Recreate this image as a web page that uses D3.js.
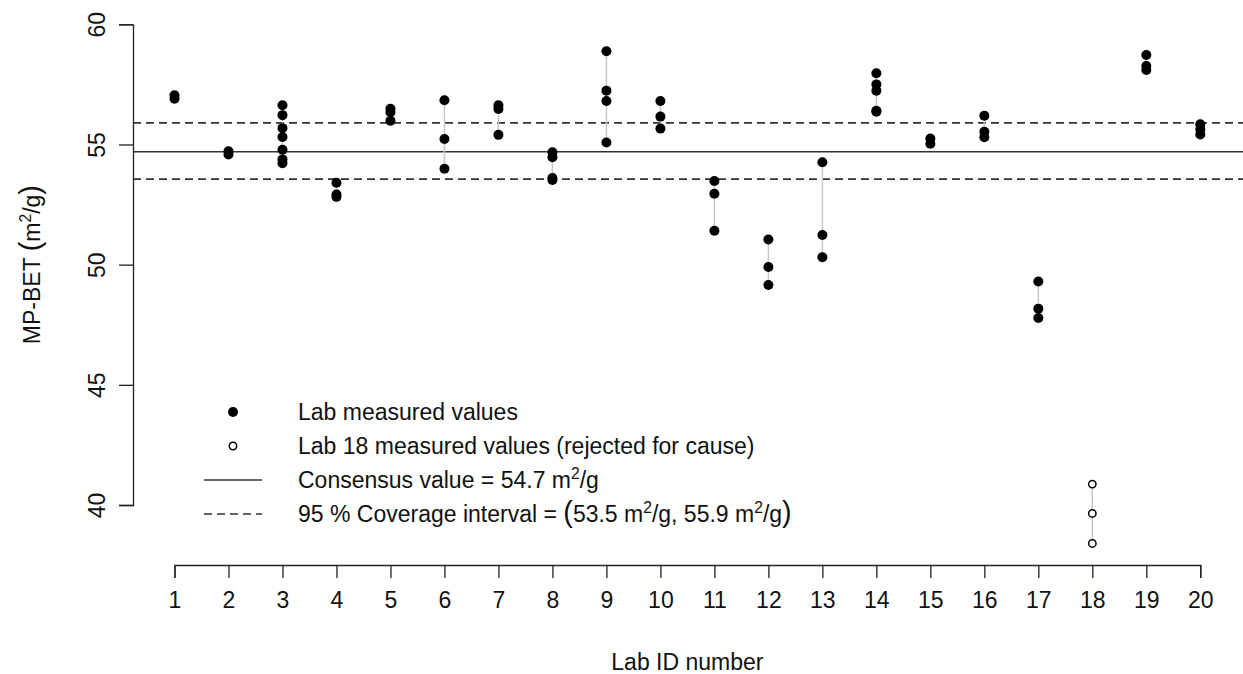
<!DOCTYPE html>
<html>
<head>
<meta charset="utf-8">
<script src="https://cdn.jsdelivr.net/npm/d3@7"></script>
<style>
  body { margin: 0; background: #fff; }
  svg { display: block; font-family: "Liberation Sans", Arial, sans-serif; }
  .axis text { font-size: 23px; fill: #111; }
  .axis path, .axis line { stroke: #222; stroke-width: 1.3; }
</style>
</head>
<body>
<svg id="chart" width="1243" height="674"></svg>
<script>
// Interlab study: MP-BET surface area per lab, with consensus and 95 % interval.

const labIds = [1, 2, 3, 4, 5, 6, 7, 8, 9, 10, 11, 12, 13, 14, 15, 16, 17, 19, 20];
const labValues = [
    [57.05, 56.9],
    [54.72, 54.58],
    [56.63, 56.22, 55.68, 55.31, 54.78, 54.38, 54.22],
    [53.41, 52.92, 52.82],
    [56.49, 56.34, 55.99],
    [56.84, 55.23, 53.99],
    [56.63, 56.48, 55.4],
    [54.68, 54.47, 53.6, 53.52],
    [58.88, 57.24, 56.81, 55.08],
    [56.81, 56.16, 55.66],
    [53.48, 52.95, 51.41],
    [51.05, 49.9, 49.15],
    [54.26, 51.23, 50.31],
    [57.96, 57.5, 57.24, 56.4, 56.36],
    [55.25, 55.03],
    [56.2, 55.53, 55.3],
    [49.3, 48.17, 47.78],
    [58.72, 58.26, 58.1],
    [55.84, 55.63, 55.42]
];
const rejectedLab = 18;
const rejectedValues = [40.87, 39.65, 38.4];

const consensus = 54.7;
const coverage = [53.56, 55.9];

const xTicks = [1, 2, 3, 4, 5, 6, 7, 8, 9, 10, 11, 12, 13, 14, 15, 16, 17, 18, 19, 20];
const yTicks = [40, 45, 50, 55, 60];

// text pieces: [text, kind] where kind is "n" normal, "s" superscript, "p" big paren
const legendLabels = [
    [["Lab measured values", "n"]],
    [["Lab 18 measured values (rejected for cause)", "n"]],
    [["Consensus value = 54.7 m", "n"], ["2", "s"], ["/g", "n"]],
    [["95 % Coverage interval = ", "n"], ["(", "p"], ["53.5 m", "n"], ["2", "s"], ["/g, 55.9 m", "n"],
     ["2", "s"], ["/g", "n"], [")", "p"]]
];
const yTitleParts = [["MP-BET ", "n"], ["(", "p"], ["m", "n"], ["2", "s"], ["/g", "n"], [")", "p"]];

const svg = d3.select("#chart");
const W = 1243, H = 674;

const x = d3.scaleLinear().domain([1, 20]).range([174.5, 1200.3]);
const y = d3.scaleLinear().domain([40, 60]).range([505, 24.3]);
const plotLeft = 133, plotRight = W;

// writes mixed normal / superscript / large-paren pieces into a text element
function richText(t, parts, size) {
    let shift = 0;
    parts.forEach(([s, kind]) => {
        const sp = t.append("tspan").text(s);
        if (kind === "s") {
            sp.attr("font-size", size * 0.68).attr("dy", -9 - shift);
            shift = -9;
        } else {
            sp.attr("font-size", kind === "p" ? size * 1.25 : size);
            if (shift !== 0) { sp.attr("dy", -shift); shift = 0; }
        }
    });
}

// reference lines
svg.append("line")
    .attr("x1", plotLeft).attr("x2", plotRight)
    .attr("y1", y(consensus)).attr("y2", y(consensus))
    .attr("stroke", "#333").attr("stroke-width", 1.6);
coverage.forEach(v => {
    svg.append("line")
        .attr("x1", plotLeft).attr("x2", plotRight)
        .attr("y1", y(v)).attr("y2", y(v))
        .attr("stroke", "#333").attr("stroke-width", 1.6)
        .attr("stroke-dasharray", "8,5");
});

// range segments per lab
const groups = labIds.map((id, i) => ({ id, vals: labValues[i] }));
groups.push({ id: rejectedLab, vals: rejectedValues });

svg.append("g").selectAll("line")
    .data(groups)
    .join("line")
    .attr("x1", d => x(d.id)).attr("x2", d => x(d.id))
    .attr("y1", d => y(d3.max(d.vals))).attr("y2", d => y(d3.min(d.vals)))
    .attr("stroke", "#c8c8c8").attr("stroke-width", 1.5);

// points
const pts = [];
labIds.forEach((id, i) => labValues[i].forEach(v => pts.push({ id, v })));
svg.append("g").selectAll("circle")
    .data(pts)
    .join("circle")
    .attr("cx", d => x(d.id)).attr("cy", d => y(d.v))
    .attr("r", 5).attr("fill", "#000");

svg.append("g").selectAll("circle")
    .data(rejectedValues)
    .join("circle")
    .attr("cx", x(rejectedLab)).attr("cy", d => y(d))
    .attr("r", 3.7).attr("fill", "#fff")
    .attr("stroke", "#000").attr("stroke-width", 1.5);

// axes
const yAxis = svg.append("g")
    .attr("class", "axis")
    .attr("transform", `translate(${plotLeft},0)`)
    .call(d3.axisLeft(y).tickValues(yTicks).tickSize(14).tickSizeOuter(14).tickFormat(d3.format("d")));
yAxis.selectAll("text")
    .attr("transform", "rotate(-90)")
    .attr("x", 0).attr("y", -28)
    .attr("dy", 0)
    .attr("text-anchor", "middle");

const xAxis = svg.append("g")
    .attr("class", "axis")
    .attr("transform", "translate(0,565)")
    .call(d3.axisBottom(x).tickValues(xTicks).tickSize(13).tickSizeOuter(13).tickFormat(d3.format("d")));
xAxis.selectAll("text").attr("y", 27).attr("dy", "0.71em");

// axis titles
const yTitle = svg.append("text")
    .attr("transform", `translate(40,${(y(40) + y(60)) / 2}) rotate(-90)`)
    .attr("text-anchor", "middle")
    .attr("fill", "#111");
richText(yTitle, yTitleParts, 23);

svg.append("text")
    .attr("x", (x(1) + x(20)) / 2).attr("y", 670)
    .attr("text-anchor", "middle")
    .attr("font-size", 23)
    .attr("fill", "#111")
    .text("Lab ID number");

// legend
const legendX = 233, legendTextX = 298;
const legendY = [412, 446, 480, 514];
const lg = svg.append("g");

lg.append("circle").attr("cx", legendX).attr("cy", legendY[0]).attr("r", 5).attr("fill", "#000");
lg.append("circle").attr("cx", legendX).attr("cy", legendY[1]).attr("r", 3.7)
    .attr("fill", "#fff").attr("stroke", "#000").attr("stroke-width", 1.5);
lg.append("line").attr("x1", legendX - 29).attr("x2", legendX + 29)
    .attr("y1", legendY[2]).attr("y2", legendY[2])
    .attr("stroke", "#333").attr("stroke-width", 1.6);
lg.append("line").attr("x1", legendX - 29).attr("x2", legendX + 29)
    .attr("y1", legendY[3]).attr("y2", legendY[3])
    .attr("stroke", "#333").attr("stroke-width", 1.6).attr("stroke-dasharray", "8,5");

legendLabels.forEach((parts, i) => {
    const t = lg.append("text")
        .attr("x", legendTextX).attr("y", legendY[i] + 8)
        .attr("fill", "#111");
    richText(t, parts, 23);
});
</script>
</body>
</html>
